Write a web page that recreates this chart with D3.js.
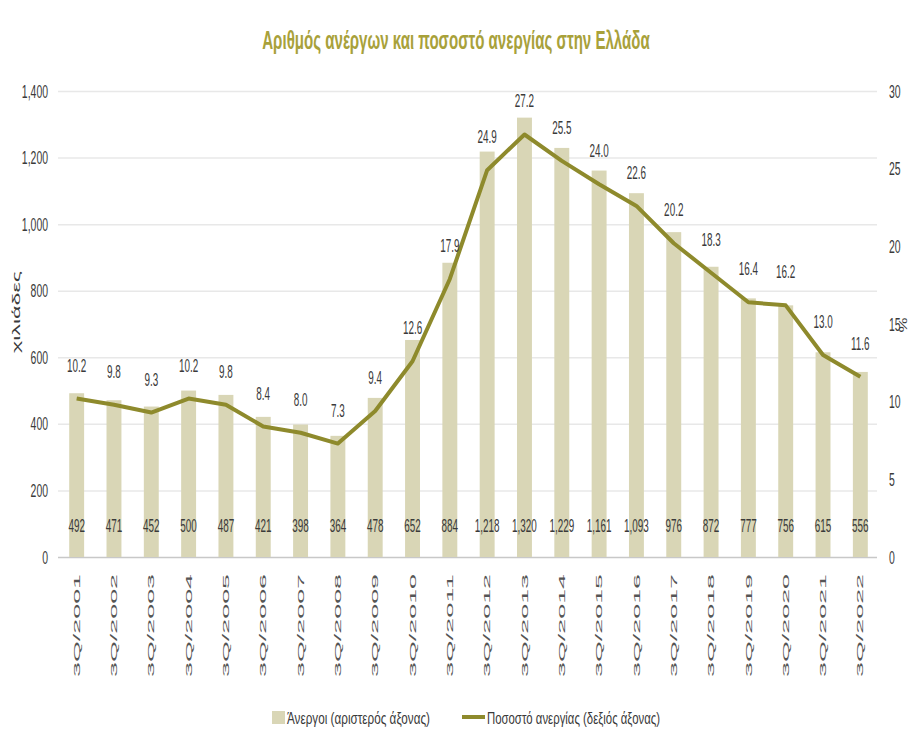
<!DOCTYPE html>
<html>
<head>
<meta charset="utf-8">
<script src="https://cdn.jsdelivr.net/npm/d3@7"></script>
<style>
  body { margin: 0; background: #fff; }
  text { font-family: "Liberation Sans Narrow", "Liberation Sans", Arial, sans-serif; }
</style>
</head>
<body>
<div id="graphic"></div>
<script>
// Data
var quarters = ['3Q/2001','3Q/2002','3Q/2003','3Q/2004','3Q/2005','3Q/2006','3Q/2007','3Q/2008','3Q/2009','3Q/2010','3Q/2011',
    '3Q/2012','3Q/2013','3Q/2014','3Q/2015','3Q/2016','3Q/2017','3Q/2018','3Q/2019','3Q/2020','3Q/2021','3Q/2022'];
var unemployed = [492,471,452,500,487,421,398,364,478,652,884,1218,1320,1229,1161,1093,976,872,777,756,615,556];
var rate = [10.2,9.8,9.3,10.2,9.8,8.4,8.0,7.3,9.4,12.6,17.9,24.9,27.2,25.5,24.0,22.6,20.2,18.3,16.4,16.2,13.0,11.6];
var leftTicks = [0,200,400,600,800,1000,1200,1400];
var rightTicks = [0,5,10,15,20,25,30];

var colors = {
    'bar': '#d9d6b6',
    'line': '#8e8a2c',
    'title': '#a8a13a',
    'grid': '#e8e8e8',
    'text': '#3a3a3a'
};

var width = 913, height = 742;
var margins = { top: 91, right: 34, bottom: 185, left: 58 };
var sx = 0.55; // horizontal squeeze of the condensed labels

var svg = d3.select('#graphic').append('svg')
    .attr('width', width)
    .attr('height', height);

var x = d3.scaleBand()
    .domain(quarters)
    .range([margins.left, width - margins.right])
    .paddingInner(0.6)
    .paddingOuter(0.3);

var yLeft = d3.scaleLinear().domain([0, 1400]).range([height - margins.bottom, margins.top]);
var yRight = d3.scaleLinear().domain([0, 30]).range([height - margins.bottom, margins.top]);

// Title
var titleScale = 0.58;
svg.append('text')
    .attr('x', 456)
    .attr('y', 49)
    .attr('text-anchor', 'middle')
    .attr('transform', 'translate(' + (456 * (1 - titleScale)) + ',0) scale(' + titleScale + ',1)')
    .style('font-size', '26px')
    .style('font-weight', 'bold')
    .style('fill', colors.title)
    .text('Αριθμός ανέργων και ποσοστό ανεργίας στην Ελλάδα');

// Gridlines + left axis
var leftAxis = svg.append('g')
    .attr('transform', 'translate(' + margins.left + ',0)')
    .call(d3.axisLeft(yLeft)
        .tickValues(leftTicks)
        .tickSize(-(width - margins.left - margins.right - 2))
        .tickPadding(10)
        .tickFormat(d3.format(',')));
leftAxis.select('.domain').remove();
leftAxis.selectAll('line').style('stroke', function(d) { return d === 0 ? '#c8c8c8' : colors.grid; }).style('stroke-width', 1.5);
leftAxis.selectAll('text')
    .attr('x', -10 / sx)
    .attr('transform', 'scale(' + sx + ',1)')
    .style('font-size', '19px')
    .style('fill', colors.text);

// Right axis
var rightAxis = svg.append('g')
    .attr('transform', 'translate(' + (width - margins.right + 4) + ',0)')
    .call(d3.axisRight(yRight)
        .tickValues(rightTicks)
        .tickSize(0)
        .tickPadding(6));
rightAxis.select('.domain').remove();
rightAxis.selectAll('text')
    .attr('x', 6 / sx)
    .attr('transform', 'scale(' + sx + ',1)')
    .style('font-size', '19px')
    .style('fill', colors.text);

// Axis titles
svg.append('text')
    .attr('transform', 'translate(20,312) rotate(-90)')
    .attr('text-anchor', 'middle')
    .attr('textLength', 82)
    .attr('lengthAdjust', 'spacingAndGlyphs')
    .style('font-size', '11px')
    .style('fill', colors.text)
    .text('χιλιάδες');

svg.append('text')
    .attr('transform', 'translate(907,325) rotate(-90)')
    .attr('text-anchor', 'middle')
    .attr('textLength', 15)
    .attr('lengthAdjust', 'spacingAndGlyphs')
    .style('font-size', '10px')
    .style('fill', colors.text)
    .text('%');

// Bars
svg.append('g').selectAll('rect')
    .data(unemployed)
    .enter().append('rect')
    .attr('x', function(d, i) { return x(quarters[i]); })
    .attr('y', function(d) { return yLeft(d); })
    .attr('width', x.bandwidth())
    .attr('height', function(d) { return yLeft(0) - yLeft(d); })
    .style('fill', colors.bar);

// Bar labels
svg.append('g').selectAll('text')
    .data(unemployed)
    .enter().append('text')
    .attr('transform', function(d, i) {
        return 'translate(' + (x(quarters[i]) + x.bandwidth() / 2) + ',532) scale(' + sx + ',1)';
    })
    .attr('text-anchor', 'middle')
    .style('font-size', '18px')
    .style('fill', colors.text)
    .text(function(d) { return d3.format(',')(d); });

// Line
var line = d3.line()
    .x(function(d, i) { return x(quarters[i]) + x.bandwidth() / 2; })
    .y(function(d) { return yRight(d); });

svg.append('path')
    .datum(rate)
    .attr('d', line)
    .style('fill', 'none')
    .style('stroke', colors.line)
    .style('stroke-width', 4)
    .style('stroke-linejoin', 'round');

// Line labels
svg.append('g').selectAll('text')
    .data(rate)
    .enter().append('text')
    .attr('transform', function(d, i) {
        return 'translate(' + (x(quarters[i]) + x.bandwidth() / 2) + ',' + (yRight(d) - 27) + ') scale(' + sx + ',1)';
    })
    .attr('text-anchor', 'middle')
    .style('font-size', '18px')
    .style('fill', colors.text)
    .text(function(d) { return d3.format('.1f')(d); });

// X labels
var xAxis = svg.append('g')
    .attr('transform', 'translate(0,' + yLeft(0) + ')')
    .call(d3.axisBottom(x).tickSize(0));
xAxis.select('.domain').remove();
xAxis.selectAll('text')
    .attr('transform', 'translate(0,120) rotate(-90)')
    .attr('x', 0)
    .attr('y', 0)
    .attr('dy', '0.35em')
    .attr('text-anchor', 'start')
    .attr('textLength', 103)
    .attr('lengthAdjust', 'spacingAndGlyphs')
    .style('font-size', '9px')
    .style('fill', '#555');

// Legend
var legend = svg.append('g');
legend.append('rect')
    .attr('x', 272).attr('y', 711)
    .attr('width', 13).attr('height', 13)
    .style('fill', colors.bar);
legend.append('text')
    .attr('x', 287).attr('y', 724)
    .attr('textLength', 143)
    .attr('lengthAdjust', 'spacingAndGlyphs')
    .style('font-size', '17px')
    .style('fill', colors.text)
    .text('Άνεργοι (αριστερός άξονας)');
legend.append('line')
    .attr('x1', 462).attr('x2', 485)
    .attr('y1', 717).attr('y2', 717)
    .style('stroke', colors.line)
    .style('stroke-width', 4);
legend.append('text')
    .attr('x', 487).attr('y', 724)
    .attr('textLength', 173)
    .attr('lengthAdjust', 'spacingAndGlyphs')
    .style('font-size', '17px')
    .style('fill', colors.text)
    .text('Ποσοστό ανεργίας (δεξιός άξονας)');
</script>
</body>
</html>
